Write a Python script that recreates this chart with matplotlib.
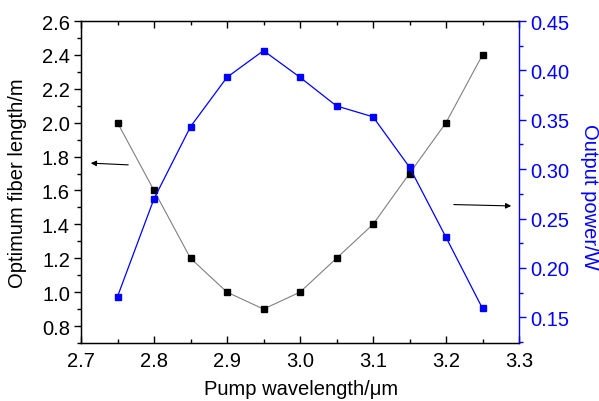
import matplotlib
matplotlib.use("Agg")
import matplotlib.pyplot as plt
from matplotlib.ticker import MultipleLocator

plt.rcParams['font.family'] = ['Liberation Sans', 'DejaVu Sans']

wavelength = [2.75, 2.80, 2.85, 2.90, 2.95, 3.00, 3.05, 3.10, 3.15, 3.20, 3.25]
fiber_length = [2.0, 1.6, 1.2, 1.0, 0.9, 1.0, 1.2, 1.4, 1.7, 2.0, 2.4]
output_power = [0.171, 0.270, 0.343, 0.393, 0.420, 0.393, 0.364, 0.353, 0.302, 0.231, 0.159]

x_ticks = [2.7, 2.8, 2.9, 3.0, 3.1, 3.2, 3.3]
x_ticklabels = ['2.7', '2.8', '2.9', '3.0', '3.1', '3.2', '3.3']
yl_ticks = [0.8, 1.0, 1.2, 1.4, 1.6, 1.8, 2.0, 2.2, 2.4, 2.6]
yl_ticklabels = ['0.8', '1.0', '1.2', '1.4', '1.6', '1.8', '2.0', '2.2', '2.4', '2.6']
yr_ticks = [0.15, 0.20, 0.25, 0.30, 0.35, 0.40, 0.45]
yr_ticklabels = ['0.15', '0.20', '0.25', '0.30', '0.35', '0.40', '0.45']

blue = '#0000ff'
W, H = 599, 402
L, R, T, B = 81, 519, 22, 344
fig = plt.figure(figsize=(W/100, H/100), dpi=100)
ax = fig.add_axes([L/W, 1-B/H, (R-L)/W, (B-T)/H])
ax2 = ax.twinx()

ax.plot(wavelength, fiber_length, color='#808080', lw=0.8, marker='s', ms=4.3,
        mfc='black', mec='black', zorder=3)
ax2.plot(wavelength, output_power, color=blue, lw=0.9, marker='s', ms=4.3,
         mfc=blue, mec=blue, zorder=3)

ax.set_xlim(2.7, 3.3)
ax.set_ylim(0.7, 2.6)
ax2.set_ylim(0.124, 0.45)

ax.set_xticks(x_ticks)
ax.set_xticklabels(x_ticklabels)
ax.xaxis.set_minor_locator(MultipleLocator(0.05))
ax.set_yticks(yl_ticks)
ax.set_yticklabels(yl_ticklabels)
ax.yaxis.set_minor_locator(MultipleLocator(0.1))
ax2.set_yticks(yr_ticks)
ax2.set_yticklabels(yr_ticklabels)
ax2.yaxis.set_minor_locator(MultipleLocator(0.025))

fs = 14.5
ax.tick_params(axis='x', which='both', direction='in', top=True, labelsize=fs, pad=6)
ax.tick_params(axis='x', which='major', length=5, width=1)
ax.tick_params(axis='x', which='minor', length=3, width=1)
ax.tick_params(axis='y', which='major', direction='out', length=5, width=1, labelsize=fs, pad=3)
ax.tick_params(axis='y', which='minor', direction='out', length=3, width=1)
ax2.tick_params(axis='y', which='major', direction='out', length=5, width=1,
                colors=blue, labelsize=fs, pad=3)
ax2.tick_params(axis='y', which='minor', direction='out', length=3, width=1, colors=blue)

for s in ['left', 'bottom', 'top']:
    ax.spines[s].set_linewidth(1)
ax2.spines['right'].set_color(blue)
ax2.spines['right'].set_linewidth(1)
ax.spines['right'].set_visible(False)

ax.set_xlabel('Pump wavelength/μm', fontsize=fs)
ax.xaxis.set_label_coords(((205+397)/2 - L)/(R-L), (B-390)/(B-T))
ax.xaxis.label.set_va('center')
ax.set_ylabel('Optimum fiber length/m', fontsize=fs)
ax.yaxis.set_label_coords((18 - L)/(R-L), 0.5)
ax.yaxis.label.set_va('center')
ax2.set_ylabel('Output power/W', fontsize=fs, color=blue, rotation=270)
ax2.yaxis.set_label_coords((590 - L)/(R-L), (B-197)/(B-T))
ax2.yaxis.label.set_va('center')

def fr(px, py):
    return ((px - L)/(R-L), (B - py)/(B-T))

ax.annotate('', xy=fr(88, 164), xytext=fr(131, 166), xycoords='axes fraction',
            textcoords='axes fraction',
            arrowprops=dict(arrowstyle='-|>', color='black', lw=0.8, mutation_scale=8))
ax.annotate('', xy=fr(514, 207), xytext=fr(451, 205.5), xycoords='axes fraction',
            textcoords='axes fraction',
            arrowprops=dict(arrowstyle='-|>', color='black', lw=0.8, mutation_scale=8))

fig.savefig('out.png', dpi=100)
